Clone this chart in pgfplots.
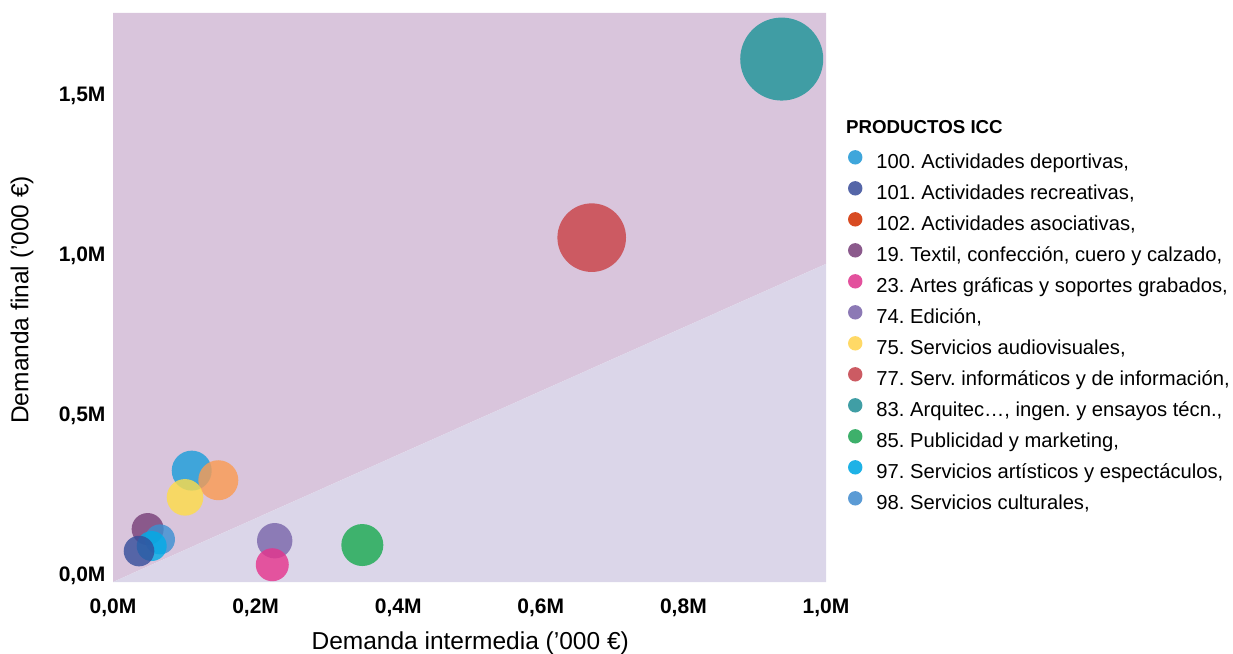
\documentclass[border=0pt]{standalone}
\usepackage{pgfplots}
\pgfplotsset{compat=1.18}
\usepackage{fontspec}
\setmainfont{Liberation Sans}
\frenchspacing

\definecolor{bgpink}{HTML}{D9C5DC}
\definecolor{bglav}{HTML}{DBD6E9}
% colores de la leyenda
\definecolor{cA}{HTML}{3FA6DB}% 100
\definecolor{cB}{HTML}{5566A8}% 101
\definecolor{cC}{HTML}{D84B22}% 102
\definecolor{cD}{HTML}{8B5A8C}% 19
\definecolor{cE}{HTML}{E3519D}% 23
\definecolor{cF}{HTML}{8C79B5}% 74
\definecolor{cG}{HTML}{FFD966}% 75
\definecolor{cH}{HTML}{CC5B63}% 77
\definecolor{cI}{HTML}{409EA5}% 83
\definecolor{cJ}{HTML}{3EB06B}% 85
\definecolor{cK}{HTML}{1EB2E6}% 97
\definecolor{cL}{HTML}{5B9BD5}% 98
% colores base de las burbujas (con transparencia)
\definecolor{bA}{HTML}{199EDA}
\definecolor{bB}{HTML}{344D9A}
\definecolor{bD}{HTML}{773E77}
\definecolor{bE}{HTML}{E5338C}
\definecolor{bF}{HTML}{7965AA}
\definecolor{bG}{HTML}{FFDD47}
\definecolor{bH}{HTML}{C94044}
\definecolor{bI}{HTML}{1A9496}
\definecolor{bJ}{HTML}{17AA4E}
\definecolor{bK}{HTML}{00ACE7}
\definecolor{bL}{HTML}{3B90D2}
\definecolor{bO}{HTML}{FB9B51}

\begin{document}
\begin{tikzpicture}[x=1pt,y=1pt]
\useasboundingbox (0,0) rectangle (1233,653);
\begin{axis}[
    at={(113pt,71pt)}, anchor=south west,
    width=713pt, height=569pt, scale only axis,
    xmin=0, xmax=1, ymin=-0.028, ymax=1.75,
    axis line style={draw=none},
    major tick length=0pt,
    xtick={0,0.2,0.4,0.6,0.8,1},
    xticklabels={{0,0M},{0,2M},{0,4M},{0,6M},{0,8M},{1,0M}},
    ytick={0,0.5,1,1.5},
    yticklabels={{0,0M},{0,5M},{1,0M},{1,5M}},
    ticklabel style={font=\fontsize{21}{23}\selectfont\bfseries},
    xticklabel style={yshift=-13pt},
    yticklabel style={xshift=-4pt, yshift=-2.5pt},
    xlabel={Demanda intermedia (’000 €)},
    ylabel={Demanda final (’000 €)},
    label style={font=\fontsize{24.5}{27}\selectfont},
    xlabel style={at={(axis description cs:0.501,-0.107)}, anchor=center},
    ylabel style={at={(axis description cs:-0.1276,0.496)}, anchor=center},
    legend image code/.code={\fill[#1, draw=none] (7.2pt,6.5pt) circle (7.2pt);},
    legend cell align=left,
    legend style={draw=none, fill=none, inner sep=0pt, outer sep=0pt,
        at={(rel axis cs:1.0309,0.759)}, anchor=north west,
        font=\fontsize{20.2}{22}\selectfont,
        nodes={inner sep=0pt, text height=15pt, text depth=5pt},
        column sep=14pt, row sep=7.3pt},
]
% zonas de fondo
\addplot[fill=bgpink, draw=none, forget plot] coordinates {(0,-0.028) (1,0.966) (1,1.75) (0,1.75)} -- cycle;
\addplot[fill=bglav, draw=none, forget plot] coordinates {(0,-0.028) (1,-0.028) (1,0.966)} -- cycle;

% burbujas
\pgfplotsset{bub/.style={only marks, mark=*, color=#1, mark options={draw opacity=0, fill=#1, fill opacity=0.8}, forget plot}}
\addplot[bub=bF, mark size=17.7pt] coordinates {(0.2268,0.1010)};
\addplot[bub=bE, mark size=16.5pt] coordinates {(0.2234,0.0260)};
\addplot[bub=bJ, mark size=21pt] coordinates {(0.3497,0.0875)};
\addplot[bub=bD, mark size=16pt] coordinates {(0.0486,0.1375)};
\addplot[bub=bL, mark size=15pt] coordinates {(0.0659,0.1052)};
\addplot[bub=bK, mark size=15pt] coordinates {(0.0543,0.0844)};
\addplot[bub=bB, mark size=15.3pt] coordinates {(0.0365,0.0687)};
\addplot[bub=bA, mark size=20pt] coordinates {(0.1104,0.3200)};
\addplot[bub=bO, mark size=20pt] coordinates {(0.1477,0.2900)};
\addplot[bub=bG, mark size=18.3pt] coordinates {(0.1010,0.2365)};
\addplot[bub=bH, mark size=34.3pt] coordinates {(0.6714,1.0480)};
\addplot[bub=bI, mark size=41.5pt] coordinates {(0.9379,1.6060)};

% leyenda
\addlegendimage{fill=cA}
\addlegendimage{fill=cB}
\addlegendimage{fill=cC}
\addlegendimage{fill=cD}
\addlegendimage{fill=cE}
\addlegendimage{fill=cF}
\addlegendimage{fill=cG}
\addlegendimage{fill=cH}
\addlegendimage{fill=cI}
\addlegendimage{fill=cJ}
\addlegendimage{fill=cK}
\addlegendimage{fill=cL}
\legend{
  100. Actividades deportivas{,},
  101. Actividades recreativas{,},
  102. Actividades asociativas{,},
  {19. Textil, confección, cuero y calzado,},
  23. Artes gráficas y soportes grabados{,},
  74. Edición{,},
  75. Servicios audiovisuales{,},
  77. Serv. informáticos y de información{,},
  {83. Arquitec…, ingen. y ensayos técn.,},
  85. Publicidad y marketing{,},
  97. Servicios artísticos y espectáculos{,},
  98. Servicios culturales{,}}
\end{axis}
\node[anchor=base west, inner sep=0pt, font=\fontsize{18.7}{21}\selectfont\bfseries] at (846,519) {PRODUCTOS ICC};
\end{tikzpicture}
\end{document}
